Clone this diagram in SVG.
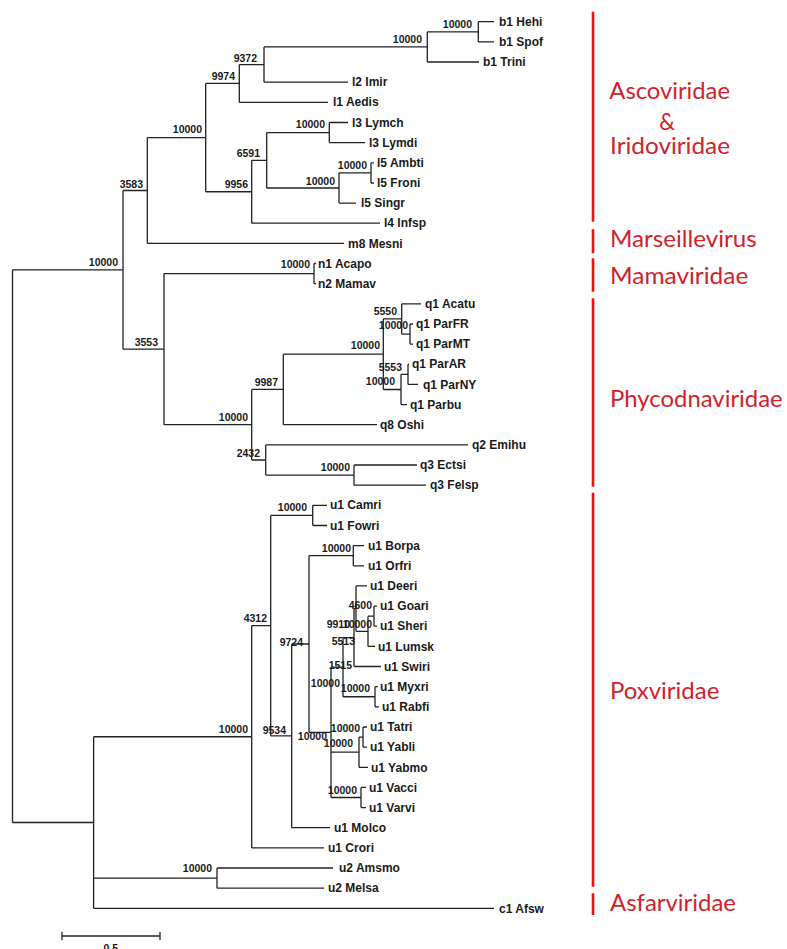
<svg xmlns="http://www.w3.org/2000/svg" width="787" height="949" viewBox="0 0 787 949">
<style>
.lf{font-family:"Liberation Sans",Arial,sans-serif;font-weight:bold;font-size:12px;fill:#1a1a1a}
.bs{font-family:"Liberation Sans",Arial,sans-serif;font-weight:bold;font-size:10.5px;fill:#1a1a1a;text-anchor:end}
.br{fill:none;stroke:#222;stroke-width:1.3}
.cl{stroke:#ee1111;stroke-width:2.6}
.ct{font-family:Lato,"Open Sans",sans-serif;font-size:24px;fill:#d0222b}
</style>
<rect width="787" height="949" fill="#fff"/>
<g id="connectors" class="br">
<path d="M478.3 21.7V41.9M478.3 21.7H494M478.3 41.9H494"/>
<path d="M427.3 31.8V62M427.3 31.8H478.3M427.3 62H479"/>
<path d="M264 46.9V82.2M264 46.9H427.3M264 82.2H348"/>
<path d="M239.3 64.55V102.3M239.3 64.55H264M239.3 102.3H328"/>
<path d="M329.3 122.5V142.6M329.3 122.5H348M329.3 142.6H365"/>
<path d="M371 162.8V183M371 162.8H374M371 183H374"/>
<path d="M339 172.9V203.1M339 172.9H371M339 203.1H356"/>
<path d="M266.7 132.55V188M266.7 132.55H329.3M266.7 188H339"/>
<path d="M251.7 160.3V223.2M251.7 160.3H266.7M251.7 223.2H380"/>
<path d="M205.7 83.4V191.75M205.7 83.4H239.3M205.7 191.75H251.7"/>
<path d="M147.3 137.6V243.4M147.3 137.6H205.7M147.3 243.4H344"/>
<path d="M314 263.5V283.7M314 263.5H316M314 283.7H316"/>
<path d="M410 324V344.1M410 324H413M410 344.1H413"/>
<path d="M401.7 303.8V334.05M401.7 303.8H421M401.7 334.05H410"/>
<path d="M408 364.3V384.4M408 364.3H409M408 384.4H418"/>
<path d="M401 374.35V404.6M401 374.35H408M401 404.6H407"/>
<path d="M383.3 318.9V389.5M383.3 318.9H401.7M383.3 389.5H401"/>
<path d="M283.3 354.2V424.7M283.3 354.2H383.3M283.3 424.7H377"/>
<path d="M354 465V485.2M354 465H417M354 485.2H426"/>
<path d="M265.7 444.9V475.1M265.7 444.9H468M265.7 475.1H354"/>
<path d="M251.7 389.45V460M251.7 389.45H283.3M251.7 460H265.7"/>
<path d="M164 273.6V424.7M164 273.6H314M164 424.7H251.7"/>
<path d="M123 190.5V349.15M123 190.5H147.3M123 349.15H164"/>
<path d="M312.7 505.3V525.5M312.7 505.3H327M312.7 525.5H327"/>
<path d="M353.3 545.6V565.8M353.3 545.6H364M353.3 565.8H364"/>
<path d="M374 606.1V626.2M374 606.1H377M374 626.2H377"/>
<path d="M368 616.15V646.4M368 616.15H374M368 646.4H375"/>
<path d="M356 585.9V631.3M356 585.9H367M356 631.3H368"/>
<path d="M354 608.6V666.5M354 608.6H356M354 666.5H381"/>
<path d="M375 686.7V706.8M375 686.7H378M375 706.8H379"/>
<path d="M343 637.55V696.75M343 637.55H354M343 696.75H375"/>
<path d="M363 727V747.1M363 727H367M363 747.1H367"/>
<path d="M359 737.05V767.3M359 737.05H363M359 767.3H368"/>
<path d="M361 787.4V807.6M361 787.4H366M361 807.6H366"/>
<path d="M331 667.15V797.5M331 667.15H343M331 752.2H359M331 797.5H361"/>
<path d="M309 555.7V732.3M309 555.7H353.3M309 732.3H331"/>
<path d="M291.7 644V827.7M291.7 644H309M291.7 827.7H330"/>
<path d="M270.7 515.4V735.85M270.7 515.4H312.7M270.7 735.85H291.7"/>
<path d="M251.7 625.6V847.9M251.7 625.6H270.7M251.7 847.9H324"/>
<path d="M217 868V888.2M217 868H333M217 888.2H324"/>
<path d="M93.6 736.75V908.3M93.6 736.75H251.7M93.6 878.1H217M93.6 908.3H494"/>
<path d="M12.5 269.8V822.5M12.5 269.8H123M12.5 822.5H93.6"/>
</g>
<g id="leaves" class="lf">
<g id="hehi"><text x="499" y="26">b1 Hehi</text></g>
<g id="spof"><text x="499" y="46">b1 Spof</text></g>
<g id="trini"><text x="483" y="66">b1 Trini</text></g>
<g id="imir"><text x="352" y="86">l2 Imir</text></g>
<g id="aedis"><text x="333" y="106">l1 Aedis</text></g>
<g id="lymch"><text x="352" y="126.5">l3 Lymch</text></g>
<g id="lymdi"><text x="369" y="146.5">l3 Lymdi</text></g>
<g id="ambti"><text x="377" y="167">l5 Ambti</text></g>
<g id="froni"><text x="377" y="187">l5 Froni</text></g>
<g id="singr"><text x="361" y="207">l5 Singr</text></g>
<g id="infsp"><text x="384" y="227">l4 Infsp</text></g>
<g id="mesni"><text x="348" y="247.5">m8 Mesni</text></g>
<g id="acapo"><text x="318" y="267.5">n1 Acapo</text></g>
<g id="mamav"><text x="318" y="287.5">n2 Mamav</text></g>
<g id="acatu"><text x="425" y="308">q1 Acatu</text></g>
<g id="parfr"><text x="416" y="328">q1 ParFR</text></g>
<g id="parmt"><text x="416" y="348">q1 ParMT</text></g>
<g id="parar"><text x="412" y="368">q1 ParAR</text></g>
<g id="parny"><text x="423" y="388.5">q1 ParNY</text></g>
<g id="parbu"><text x="410" y="408.5">q1 Parbu</text></g>
<g id="oshi"><text x="380" y="428.5">q8 Oshi</text></g>
<g id="emihu"><text x="472" y="449">q2 Emihu</text></g>
<g id="ectsi"><text x="420" y="469">q3 Ectsi</text></g>
<g id="felsp"><text x="430" y="489">q3 Felsp</text></g>
<g id="camri"><text x="330" y="509">u1 Camri</text></g>
<g id="fowri"><text x="330" y="529.5">u1 Fowri</text></g>
<g id="borpa"><text x="368" y="549.5">u1 Borpa</text></g>
<g id="orfri"><text x="368" y="570">u1 Orfri</text></g>
<g id="deeri"><text x="370" y="590">u1 Deeri</text></g>
<g id="goari"><text x="380" y="610">u1 Goari</text></g>
<g id="sheri"><text x="380" y="630">u1 Sheri</text></g>
<g id="lumsk"><text x="378" y="650.5">u1 Lumsk</text></g>
<g id="swiri"><text x="384" y="670.5">u1 Swiri</text></g>
<g id="myxri"><text x="380" y="690.5">u1 Myxri</text></g>
<g id="rabfi"><text x="382" y="711">u1 Rabfi</text></g>
<g id="tatri"><text x="370" y="731">u1 Tatri</text></g>
<g id="yabli"><text x="370" y="751">u1 Yabli</text></g>
<g id="yabmo"><text x="371" y="771.5">u1 Yabmo</text></g>
<g id="vacci"><text x="369" y="791.5">u1 Vacci</text></g>
<g id="varvi"><text x="369" y="811.5">u1 Varvi</text></g>
<g id="molco"><text x="334" y="831.5">u1 Molco</text></g>
<g id="crori"><text x="328" y="852">u1 Crori</text></g>
<g id="amsmo"><text x="339" y="872">u2 Amsmo</text></g>
<g id="melsa"><text x="328" y="892">u2 Melsa</text></g>
<g id="afsw"><text x="499" y="912.5">c1 Afsw</text></g>
</g>
<g id="internal" class="bs">
<g id="n_hs"><text x="472" y="28">10000</text></g>
<g id="n_b1"><text x="422" y="43">10000</text></g>
<g id="n_9372"><text x="257" y="62">9372</text></g>
<g id="n_9974"><text x="235" y="80">9974</text></g>
<g id="n_ai"><text x="202" y="133">10000</text></g>
<g id="n_lym"><text x="325" y="128">10000</text></g>
<g id="n_6591"><text x="260" y="157">6591</text></g>
<g id="n_af"><text x="367" y="169">10000</text></g>
<g id="n_l5"><text x="335" y="185">10000</text></g>
<g id="n_9956"><text x="248" y="188">9956</text></g>
<g id="n_3583"><text x="143" y="188">3583</text></g>
<g id="n_123"><text x="118" y="266">10000</text></g>
<g id="n_nm"><text x="310" y="268">10000</text></g>
<g id="n_3553"><text x="158" y="346">3553</text></g>
<g id="n_p1"><text x="248" y="421">10000</text></g>
<g id="n_9987"><text x="278" y="386">9987</text></g>
<g id="n_q"><text x="380" y="349">10000</text></g>
<g id="n_a1"><text x="397" y="315">5550</text></g>
<g id="n_pfm"><text x="408" y="329">10000</text></g>
<g id="n_pan"><text x="402" y="371">5553</text></g>
<g id="n_a2"><text x="395" y="385">10000</text></g>
<g id="n_2432"><text x="260" y="457">2432</text></g>
<g id="n_ef"><text x="350" y="471">10000</text></g>
<g id="n_cf"><text x="307" y="511">10000</text></g>
<g id="n_4312"><text x="267" y="622">4312</text></g>
<g id="n_bo"><text x="351" y="552">10000</text></g>
<g id="n_9724"><text x="303" y="646">9724</text></g>
<g id="n_9534"><text x="286" y="734">9534</text></g>
<g id="n_pox"><text x="248" y="733">10000</text></g>
<g id="n_amme"><text x="212" y="872">10000</text></g>
<g id="n_b"><text x="327" y="739.5">10000</text></g>
<g id="n_t"><text x="353" y="747">10000</text></g>
<g id="n_ty"><text x="360" y="731.5">10000</text></g>
<g id="n_v"><text x="357" y="794">10000</text></g>
<g id="n_m"><text x="370" y="692">10000</text></g>
<g id="n_c"><text x="340" y="687">10000</text></g>
<g id="n_1515"><text x="352" y="669">1515</text></g>
<g id="n_5513"><text x="355" y="645">5513</text></g>
<g id="n_9910"><text x="350" y="628">9910</text></g>
<g id="n_gsl"><text x="372" y="628">10000</text></g>
<g id="n_4600"><text x="372" y="609">4600</text></g>
</g>
<g id="scale">
<path class="br" d="M62 936H160M62 932V940M160 932V940"/>
<text class="bs" x="118" y="952">0.5</text>
</g>
<g id="clades">
<path class="cl" d="M593 11.7V221.7M593 229.3V253.3M593 258.3V291.7M593 298.3V486.7M593 492.7V886.7M593 893.3V915"/>
<text class="ct" x="609.3" y="99.3" textLength="120.7" lengthAdjust="spacingAndGlyphs">Ascoviridae</text>
<text class="ct" x="659.3" y="130" textLength="15.7" lengthAdjust="spacingAndGlyphs">&amp;</text>
<text class="ct" x="610" y="154" textLength="120" lengthAdjust="spacingAndGlyphs">Iridoviridae</text>
<text class="ct" x="610" y="246.7" textLength="146.7" lengthAdjust="spacingAndGlyphs">Marseillevirus</text>
<text class="ct" x="610" y="284.3" textLength="138.3" lengthAdjust="spacingAndGlyphs">Mamaviridae</text>
<text class="ct" x="610" y="407" textLength="172.7" lengthAdjust="spacingAndGlyphs">Phycodnaviridae</text>
<text class="ct" x="610" y="699.3" textLength="109.3" lengthAdjust="spacingAndGlyphs">Poxviridae</text>
<text class="ct" x="610" y="910.7" textLength="126" lengthAdjust="spacingAndGlyphs">Asfarviridae</text>
</g>
</svg>
